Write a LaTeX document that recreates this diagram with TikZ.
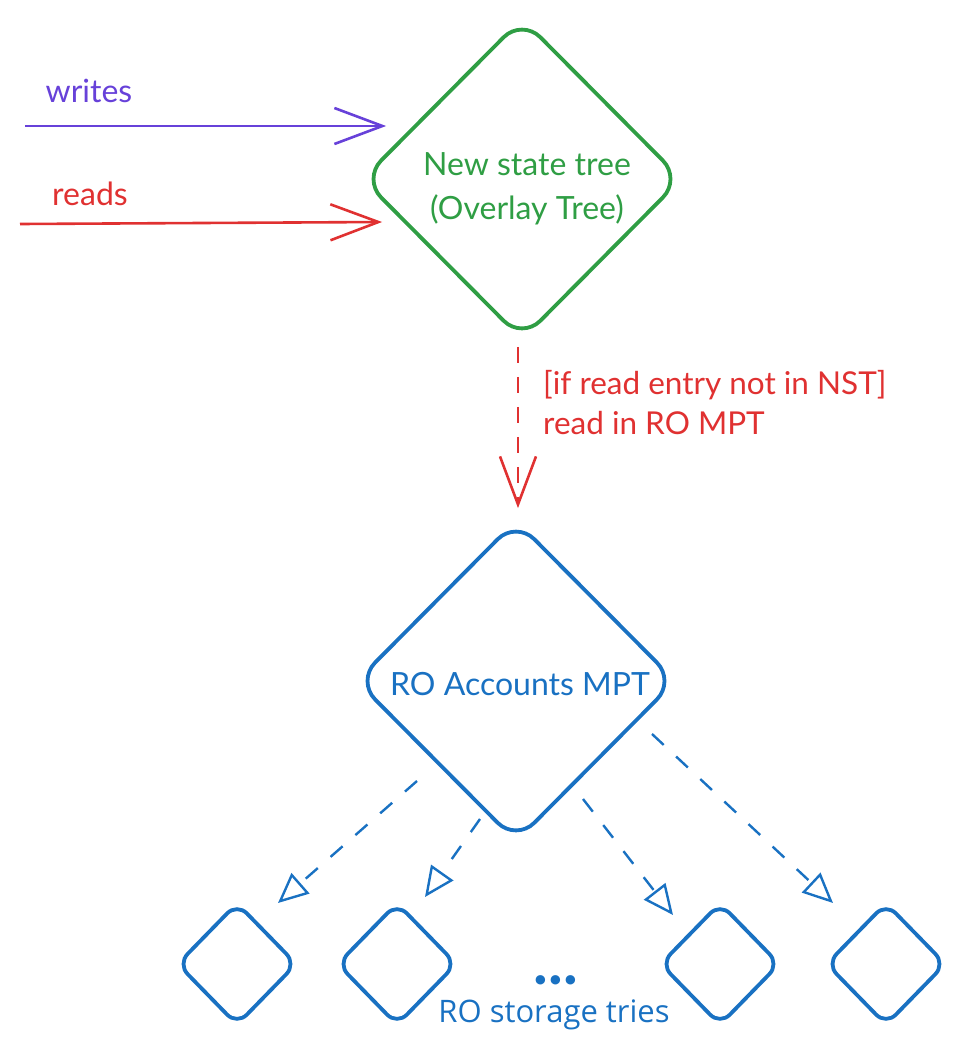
\documentclass[tikz,border=0pt]{standalone}
\usepackage{fontspec}
\setmainfont{Lato}
\newfontfamily\capfont{Open Sans}
\usetikzlibrary{shapes.geometric,arrows.meta,calc}
\definecolor{exgreen}{HTML}{2F9E44}
\definecolor{exblue}{HTML}{1971C2}
\definecolor{exred}{HTML}{E03131}
\definecolor{expurple}{HTML}{6741D9}
\begin{document}
\begin{tikzpicture}[x=1pt,y=-1pt,
  dia/.style={diamond, draw, line width=3.8pt, inner sep=0pt, align=center},
  bigdia/.style={dia, minimum width=320pt, minimum height=322pt, rounded corners=26pt},
  smalldia/.style={dia, draw=exblue, minimum width=120pt, minimum height=123pt, rounded corners=14pt},
  lbl/.style={font=\fontsize{32}{44}\selectfont, inner sep=0pt},
  flowarrow/.style={line width=2.6pt, -{Straight Barb[length=48pt, width=36pt, line width=2.6pt]}},
  readarrow/.style={exred, line width=2.6pt, dash pattern=on 16pt off 14pt,
     -{Straight Barb[length=48pt, width=36pt, line width=2.6pt]}},
  triearrow/.style={exblue, line width=2.4pt, dash pattern=on 16pt off 17pt,
     -{Triangle[open, length=30pt, width=27pt, line width=2.4pt]}}]
\useasboundingbox (0,0) rectangle (960,1055);

% main diamonds
\node[bigdia, draw=exgreen] (nst) at (522,179) {};
\node[lbl, text=exgreen, align=center] (nstt) at (527,189)
  {New state tree\\(Overlay Tree)};
\node[bigdia, draw=exblue] (ro) at (516,681) {};
\node[lbl, text=exblue] (rot) at (520,684) {RO Accounts MPT};

% small diamonds
\node[smalldia] (s1) at (237,964) {};
\node[smalldia] (s2) at (397,964) {};
\node[smalldia] (s3) at (720,964) {};
\node[smalldia] (s4) at (886,964) {};

% labels
\node[lbl, text=expurple] (wl) at (89,91) {writes};
\node[lbl, text=exred] (rl) at (90,194) {reads};
\node[lbl, text=exred, anchor=north west, align=left,
      font=\fontsize{31.5}{40}\selectfont] (cond) at (543,370)
  {[if read entry not in NST]\\read in RO MPT};
\node[inner sep=0pt, text=exblue, font=\fontsize{62}{62}\selectfont\bfseries] (dots) at (556,980) {...};
\node[inner sep=0pt, text=exblue, font=\capfont\fontsize{31}{36}\selectfont] (rost) at (554,1015) {RO storage tries};

% incoming arrows
\coordinate (wsrc) at (25,126);
\coordinate (rsrc) at (20,224);
\draw[flowarrow, expurple] (wsrc) -- ($(nst.west)+(26,-53)$);
\draw[flowarrow, exred] (rsrc) -- ($(nst.west)+(22,43)$);

% NST -> RO
\draw[readarrow] ($(nst.south)+(-4,5)$) -- ($(ro.north)+(2,-10)$);

% RO -> storage tries
\draw[triearrow] ($(ro.center)+(-99,100)$) -- ($(s1.center)+(41,-61)$);
\draw[triearrow] ($(ro.center)+(-36,138)$) -- ($(s2.center)+(28,-67)$);
\draw[triearrow] ($(ro.center)+(67,118)$) -- ($(s3.center)+(-47,-49)$);
\draw[triearrow] ($(ro.center)+(136,53)$) -- ($(s4.center)+(-53,-61)$);
\end{tikzpicture}
\end{document}
